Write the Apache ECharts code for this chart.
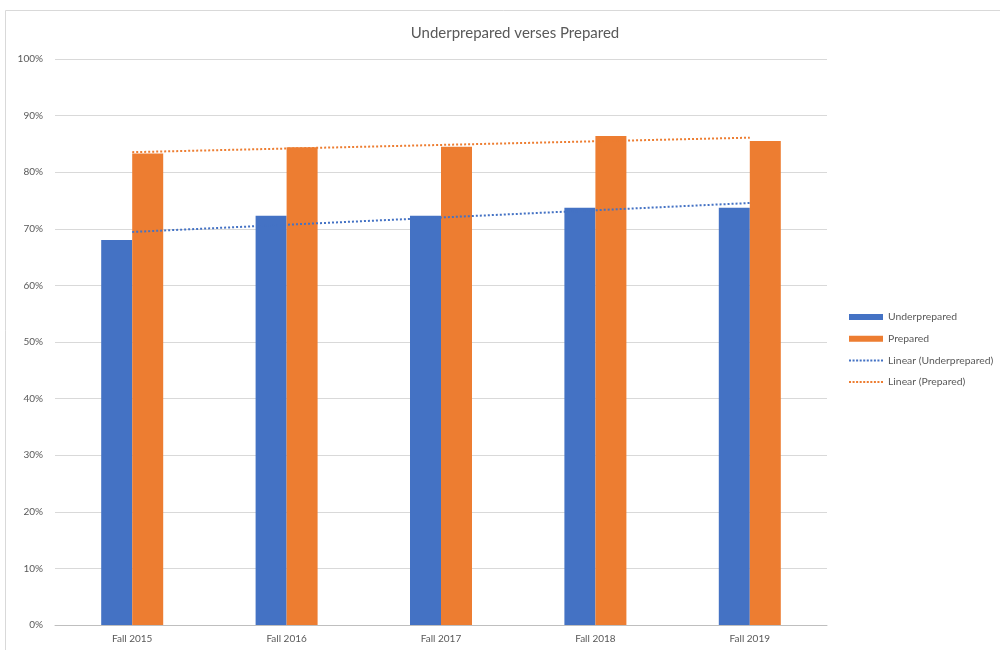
<!DOCTYPE html>
<html>
<head>
<meta charset="utf-8">
<script src="https://cdn.jsdelivr.net/npm/echarts@6/dist/echarts.min.js"></script>
<style>html,body{margin:0;padding:0;background:#fff}#c{width:1000px;height:650px}</style>
</head>
<body>
<div id="c"></div>
<script>
const categories = ['Fall 2015', 'Fall 2016', 'Fall 2017', 'Fall 2018', 'Fall 2019'];
const underprepared = [68.0, 72.3, 72.3, 73.7, 73.7];
const prepared = [83.3, 84.4, 84.5, 86.4, 85.5];
const yTicks = [0, 10, 20, 30, 40, 50, 60, 70, 80, 90, 100];

function linearTrend(vals) {
  const n = vals.length;
  const xs = vals.map((_, i) => i + 1);
  const mx = xs.reduce((a, b) => a + b, 0) / n;
  const my = vals.reduce((a, b) => a + b, 0) / n;
  let num = 0, den = 0;
  for (let i = 0; i < n; i++) { num += (xs[i] - mx) * (vals[i] - my); den += (xs[i] - mx) ** 2; }
  const b = num / den, a = my - b * mx;
  return xs.map(x => +(a + b * x).toFixed(3));
}

// dotted legend icon (10 small dots)
let dots = '';
for (let i = 0; i < 10; i++) dots += 'M' + (i * 3.5) + ',0h2v2h-2z';
const DOT_ICON = 'path://' + dots;

const BLUE = '#4472C4', ORANGE = '#ED7D31';
const FONT = 'Lato';
const chart = echarts.init(document.getElementById('c'), null, { renderer: 'canvas' });
chart.setOption({
  animation: false,
  backgroundColor: '#fff',
  textStyle: { fontFamily: FONT },
  graphic: [{
    type: 'rect', shape: { x: 5.5, y: 10.5, width: 1000, height: 700 },
    style: { fill: 'none', stroke: '#d9d9d9', lineWidth: 1 }, silent: true, z: -1
  }],
  title: {
    text: 'Underprepared verses Prepared', left: 510, top: 21, textAlign: 'center',
    textStyle: { fontFamily: FONT, fontSize: 15, fontWeight: 'normal', color: '#595959' }
  },
  legend: {
    orient: 'vertical', left: 844, top: 306, itemGap: 9.7, itemWidth: 34, itemHeight: 6,
    symbolKeepAspect: true,
    textStyle: { fontFamily: FONT, fontSize: 10.4, lineHeight: 12, color: '#595959' },
    data: [
      { name: 'Underprepared', icon: 'rect' },
      { name: 'Prepared', icon: 'rect' },
      { name: 'Linear (Underprepared)', icon: DOT_ICON },
      { name: 'Linear (Prepared)', icon: DOT_ICON }
    ]
  },
  grid: { left: 55, right: 173, top: 59, bottom: 25, containLabel: false },
  xAxis: {
    type: 'category', data: categories,
    axisLine: { lineStyle: { color: '#bfbfbf' } },
    axisTick: { show: false },
    axisLabel: { fontFamily: FONT, fontSize: 10, color: '#595959', margin: 9 }
  },
  yAxis: {
    type: 'value', min: 0, max: 100, interval: 10,
    axisLine: { show: false }, axisTick: { show: false },
    axisLabel: { fontFamily: FONT, fontSize: 10, color: '#595959', margin: 12, formatter: v => yTicks.includes(v) ? v + '%' : '' },
    splitLine: { lineStyle: { color: '#d9d9d9' } }
  },
  series: [
    { name: 'Underprepared', type: 'bar', data: underprepared, barWidth: 31, barGap: '0%', itemStyle: { color: BLUE } },
    { name: 'Prepared', type: 'bar', data: prepared, barWidth: 31, barGap: '0%', itemStyle: { color: ORANGE } },
    { name: 'Linear (Underprepared)', type: 'line', data: linearTrend(underprepared), symbol: 'none', z: 5,
      lineStyle: { color: BLUE, width: 2, type: [2, 2] }, itemStyle: { color: BLUE } },
    { name: 'Linear (Prepared)', type: 'line', data: linearTrend(prepared), symbol: 'none', z: 5,
      lineStyle: { color: ORANGE, width: 2, type: [2, 2] }, itemStyle: { color: ORANGE } }
  ]
});
</script>
</body>
</html>
